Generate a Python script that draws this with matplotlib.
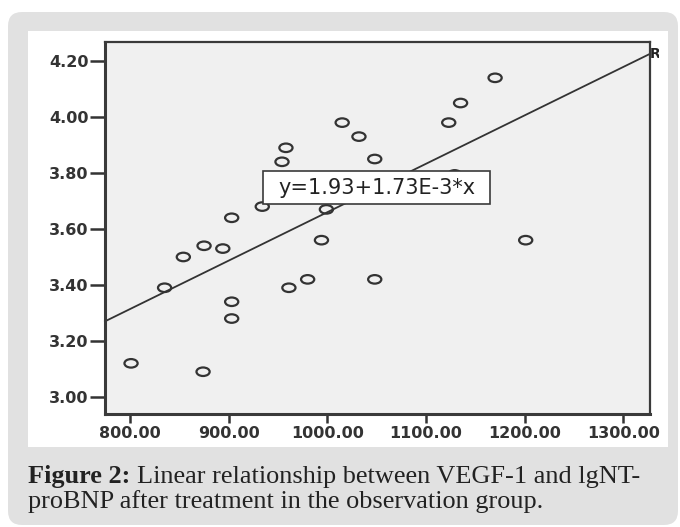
import matplotlib
matplotlib.use("Agg")
import matplotlib.pyplot as plt
from matplotlib.path import Path
from matplotlib.patches import FancyBboxPatch, Rectangle
from matplotlib.transforms import IdentityTransform, Affine2D, Bbox, TransformedBbox
import numpy as np

# ---- data ----
vegf = [801, 835, 854, 875, 894, 903, 934, 954, 958, 903, 903, 874, 961, 980,
        994, 999, 1015, 1032, 1048, 1048, 1123, 1129, 1135, 1170, 1201]
lgnt = [3.12, 3.39, 3.50, 3.54, 3.53, 3.64, 3.68, 3.84, 3.89, 3.34, 3.28, 3.09,
        3.39, 3.42, 3.56, 3.67, 3.98, 3.93, 3.85, 3.42, 3.98, 3.795, 4.05, 4.14, 3.56]
fit_intercept = 1.93
fit_slope = 1.73e-3
fit_label = "y=1.93+1.73E-3*x"
xticks = [800, 900, 1000, 1100, 1200, 1300]
yticks = [3.00, 3.20, 3.40, 3.60, 3.80, 4.00, 4.20]
caption_bold = "Figure 2:"
caption_line1 = "Linear relationship between VEGF-1 and lgNT-"
caption_line2 = "proBNP after treatment in the observation group."

W, H = 680, 527
fig = plt.figure(figsize=(W / 100, H / 100), dpi=100)
fig.patch.set_facecolor("white")

# background decorations (pixel coordinates)
gray = FancyBboxPatch((8, 2), 670, 513, boxstyle="round,pad=0,rounding_size=14",
                      transform=IdentityTransform(), facecolor="#e1e1e1",
                      edgecolor="none", zorder=-10)
fig.add_artist(gray)
panel = Rectangle((28, 80), 640, 416, transform=IdentityTransform(),
                  facecolor="white", edgecolor="none", zorder=-9)
fig.add_artist(panel)

ax = fig.add_axes([105 / W, 1 - 414 / H, (650 - 105) / W, (414 - 42) / H])
ax.set_facecolor("#f0f0f0")
xmin, xmax = 774.6, 1327.0
ymin, ymax = 2.939, 4.268
ax.set_xlim(xmin, xmax)
ax.set_ylim(ymin, ymax)

for s in ax.spines.values():
    s.set_color("#3a3a3a")
    s.set_linewidth(1.6)
ax.spines["left"].set_linewidth(2.2)
ax.spines["bottom"].set_linewidth(2.2)

ax.set_xticks(xticks)
ax.set_xticklabels([f"{v:.2f}" for v in xticks])
ax.set_yticks(yticks)
ax.set_yticklabels([f"{v:.2f}" for v in yticks])
ax.tick_params(axis="y", length=11, width=1.8, pad=1, color="#333333",
               labelsize=11.5, labelcolor="#333333")
ax.tick_params(axis="x", length=6.5, width=1.8, pad=2, color="#333333",
               labelsize=11.5, labelcolor="#333333")
for lab in ax.get_xticklabels() + ax.get_yticklabels():
    lab.set_family("DejaVu Sans")
    lab.set_fontweight("bold")

# fit line
xs = np.array([xmin, xmax])
ax.plot(xs, fit_intercept + fit_slope * xs, color="#333333", lw=1.3, zorder=2,
        clip_on=False)

# elliptical open markers
circ = Path.unit_circle()
ell = Path(Affine2D().scale(1.55, 1.0).transform(circ.vertices), circ.codes)
ax.scatter(vegf, lgnt, marker=ell, s=9.5 ** 2, facecolors="none",
           edgecolors="#333333", linewidths=1.6, zorder=3)

# equation label box
bx0, by0, bx1, by1 = 935.2, 3.688, 1164.4, 3.807
ax.add_patch(Rectangle((bx0, by0), bx1 - bx0, by1 - by0, facecolor="white",
                       edgecolor="#3a3a3a", lw=1.2, zorder=5))
ax.text((bx0 + bx1) / 2, (by0 + by1) / 2, fit_label, ha="center", va="center",
        fontsize=15, family="DejaVu Sans", color="#222222", zorder=6)

# "R" marker at end of fit line (partly cut)
yend = fit_intercept + fit_slope * xmax
rt = fig.text(xmax, yend, "R", transform=ax.transData, ha="left", va="center",
              fontsize=10, family="DejaVu Sans", weight="bold", color="#222222")
rt.set_clip_on(True)
rt.set_clip_box(TransformedBbox(Bbox([[0, 0], [659, H]]), IdentityTransform()))

# caption with bold prefix, fitted to width
renderer = fig.canvas.get_renderer()
target_w = 614.0
fs = 16.0
cap_family = "Liberation Serif"
def widths(size):
    a = fig.text(0, 0, caption_bold + " ", fontsize=size, weight="bold", family=cap_family)
    b = fig.text(0, 0, caption_line1, fontsize=size, family=cap_family)
    wa = a.get_window_extent(renderer).width
    wb = b.get_window_extent(renderer).width
    a.remove(); b.remove()
    return wa, wb
wa, wb = widths(fs)
fs = fs * target_w / (wa + wb)
wa, wb = widths(fs)
x0 = 28
fig.text(x0, 44, caption_bold + " ", transform=IdentityTransform(), fontsize=fs,
         weight="bold", family=cap_family, va="baseline", color="#222222")
fig.text(x0 + wa, 44, caption_line1, transform=IdentityTransform(), fontsize=fs,
         family=cap_family, va="baseline", color="#222222")
fig.text(x0, 19, caption_line2, transform=IdentityTransform(), fontsize=fs,
         family=cap_family, va="baseline", color="#222222")

fig.savefig("out.png", dpi=100)
